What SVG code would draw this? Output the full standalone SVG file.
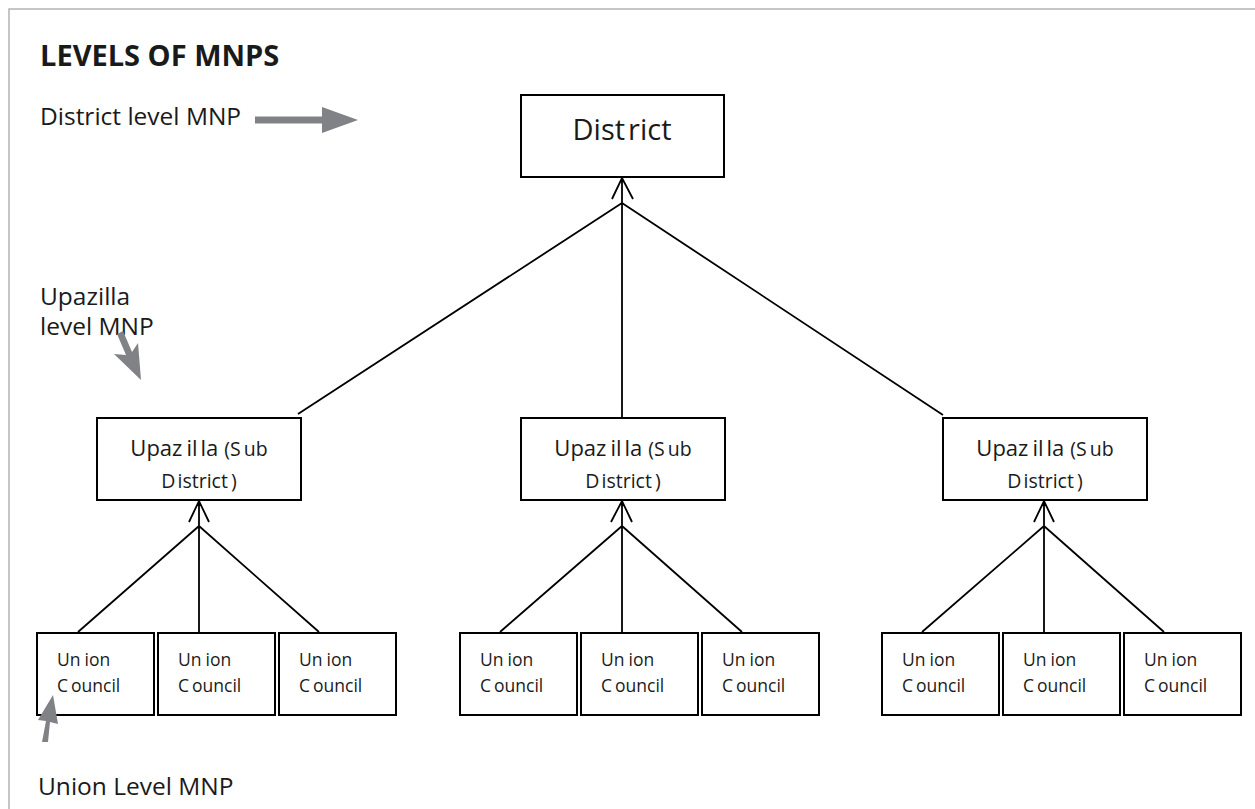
<svg xmlns="http://www.w3.org/2000/svg" width="1255" height="809" viewBox="0 0 1255 809">
<defs>
<style>
.frame{fill:none;stroke:#b3b3b3;stroke-width:1.5}
.box{fill:#fff;stroke:#000;stroke-width:2}
.conn{fill:none;stroke:#000;stroke-width:1.8}
.ga{fill:#808285;stroke:none}
text{font-family:"Open Sans","Liberation Sans",sans-serif;fill:#1a1a1a}
.title{font-size:29px;font-weight:bold}
.lbl{font-size:24.5px}
.dist{font-size:29px}
.up{font-size:22px}
.sub{font-size:19.5px}
.un{font-size:17.5px}
</style>
</defs>
<rect width="1255" height="809" fill="#fff"/>
<path class="frame" d="M9,809 V9 H1255"/>
<text class="title" x="40" y="66">LEVELS OF MNPS</text>
<text class="lbl" x="40" y="125">District level MNP</text>
<text class="lbl" x="40" y="305">Upazilla</text>
<text class="lbl" x="40" y="335">level MNP</text>
<text class="lbl" x="38" y="795">Union Level MNP</text>
<g id="connectors">
<path class="conn" d="M622,203 V178 M612,199 L622,178 L633,199"/>
<path class="conn" d="M622,203 L298,414 M622,203 V418 M622,203 L943,415"/>
<path class="conn" d="M199,526 V501 M189,522 L199,501 L209,522 M199,526 L78,632 M199,526 V632 M199,526 L319,632"/>
<path class="conn" d="M622,526 V501 M611,522 L622,501 L632,522 M622,526 L500,632 M622,526 V632 M622,526 L742,632"/>
<path class="conn" d="M1044,526 V501 M1034,522 L1044,501 L1054,522 M1044,526 L922,632 M1044,526 V632 M1044,526 L1164,632"/>
</g>
<g id="district">
<rect class="box" x="521" y="95" width="203" height="82"/>
<text class="dist" x="622" y="140" text-anchor="middle">Dist<tspan dx="3">rict</tspan></text>
</g>
<g id="upazilla-1">
<rect class="box" x="97" y="418" width="204" height="82"/>
<text x="199" y="456" text-anchor="middle"><tspan class="up">Upaz<tspan dx="4">il</tspan><tspan dx="3">la</tspan></tspan><tspan class="sub" dx="6">(S<tspan dx="3">ub</tspan></tspan></text>
<text class="sub" x="199" y="488" text-anchor="middle">D<tspan dx="2">istrict</tspan><tspan dx="3">)</tspan></text>
</g>
<g id="upazilla-2">
<rect class="box" x="521" y="418" width="204" height="82"/>
<text x="623" y="456" text-anchor="middle"><tspan class="up">Upaz<tspan dx="4">il</tspan><tspan dx="3">la</tspan></tspan><tspan class="sub" dx="6">(S<tspan dx="3">ub</tspan></tspan></text>
<text class="sub" x="623" y="488" text-anchor="middle">D<tspan dx="2">istrict</tspan><tspan dx="3">)</tspan></text>
</g>
<g id="upazilla-3">
<rect class="box" x="943" y="418" width="204" height="82"/>
<text x="1045" y="456" text-anchor="middle"><tspan class="up">Upaz<tspan dx="4">il</tspan><tspan dx="3">la</tspan></tspan><tspan class="sub" dx="6">(S<tspan dx="3">ub</tspan></tspan></text>
<text class="sub" x="1045" y="488" text-anchor="middle">D<tspan dx="2">istrict</tspan><tspan dx="3">)</tspan></text>
</g>
<g id="union-1"><rect class="box" x="37" y="633" width="117" height="82"/><text class="un" x="57" y="666">Un<tspan dx="4">ion</tspan></text><text class="un" x="57" y="692">C<tspan dx="3">ouncil</tspan></text></g>
<g id="union-2"><rect class="box" x="158" y="633" width="117" height="82"/><text class="un" x="178" y="666">Un<tspan dx="4">ion</tspan></text><text class="un" x="178" y="692">C<tspan dx="3">ouncil</tspan></text></g>
<g id="union-3"><rect class="box" x="279" y="633" width="117" height="82"/><text class="un" x="299" y="666">Un<tspan dx="4">ion</tspan></text><text class="un" x="299" y="692">C<tspan dx="3">ouncil</tspan></text></g>
<g id="union-4"><rect class="box" x="460" y="633" width="117" height="82"/><text class="un" x="480" y="666">Un<tspan dx="4">ion</tspan></text><text class="un" x="480" y="692">C<tspan dx="3">ouncil</tspan></text></g>
<g id="union-5"><rect class="box" x="581" y="633" width="117" height="82"/><text class="un" x="601" y="666">Un<tspan dx="4">ion</tspan></text><text class="un" x="601" y="692">C<tspan dx="3">ouncil</tspan></text></g>
<g id="union-6"><rect class="box" x="702" y="633" width="117" height="82"/><text class="un" x="722" y="666">Un<tspan dx="4">ion</tspan></text><text class="un" x="722" y="692">C<tspan dx="3">ouncil</tspan></text></g>
<g id="union-7"><rect class="box" x="882" y="633" width="117" height="82"/><text class="un" x="902" y="666">Un<tspan dx="4">ion</tspan></text><text class="un" x="902" y="692">C<tspan dx="3">ouncil</tspan></text></g>
<g id="union-8"><rect class="box" x="1003" y="633" width="117" height="82"/><text class="un" x="1023" y="666">Un<tspan dx="4">ion</tspan></text><text class="un" x="1023" y="692">C<tspan dx="3">ouncil</tspan></text></g>
<g id="union-9"><rect class="box" x="1124" y="633" width="117" height="82"/><text class="un" x="1144" y="666">Un<tspan dx="4">ion</tspan></text><text class="un" x="1144" y="692">C<tspan dx="3">ouncil</tspan></text></g>
<g id="annotation-arrows">
<polygon class="ga" points="255,116.5 322,116.5 322,107 358,120 322,133 322,123.5 255,123.5"/>
<polygon class="ga" points="117,334 123,331 132,352 138,343 141,380 114,354 126,355"/>
<polygon class="ga" points="42,742 48,742 50,722 58,724 53,695 38,720 46,721"/>
</g>
</svg>
